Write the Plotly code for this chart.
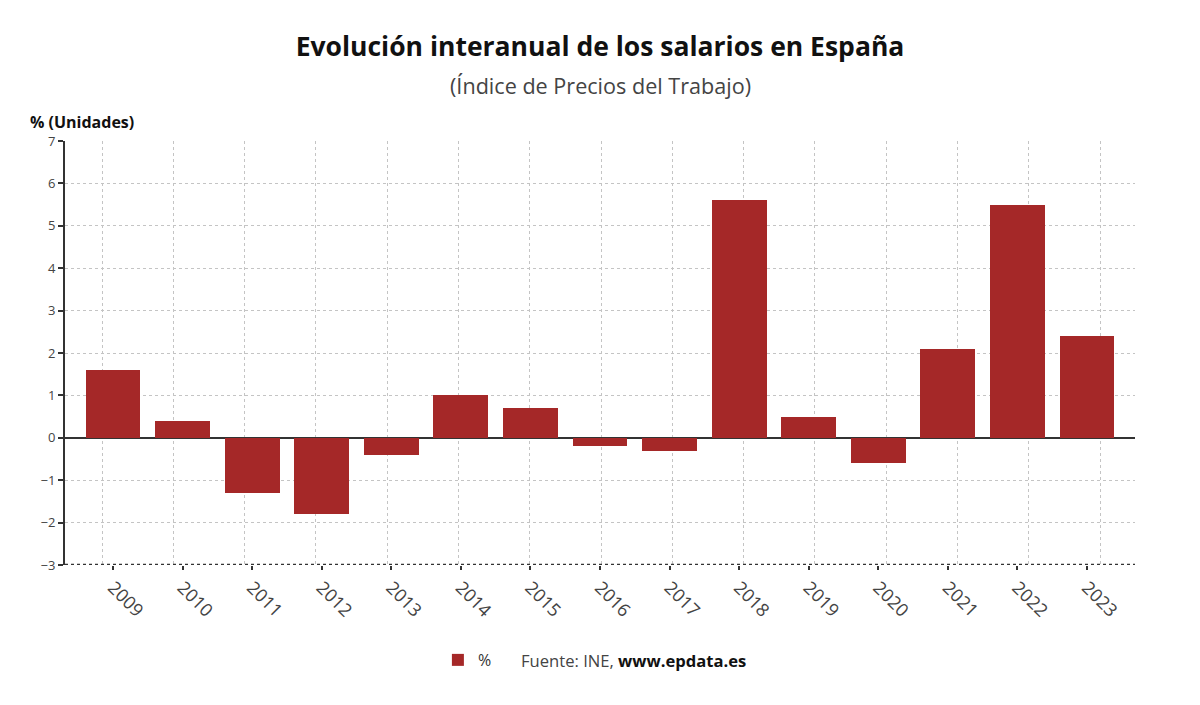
import plotly.graph_objects as go

years = [2009, 2010, 2011, 2012, 2013, 2014, 2015, 2016, 2017, 2018, 2019, 2020, 2021, 2022, 2023]
values = [1.6, 0.4, -1.3, -1.8, -0.4, 1.0, 0.7, -0.2, -0.3, 5.6, 0.5, -0.6, 2.1, 5.5, 2.4]
y_ticks = [-3, -2, -1, 0, 1, 2, 3, 4, 5, 6, 7]
y_tick_text = ["\u22123", "\u22122", "\u22121", "0", "1", "2", "3", "4", "5", "6", "7"]

FONT = "Open Sans"
BAR = "#a52828"

fig = go.Figure()
fig.add_trace(go.Bar(x=years, y=values, name="%", marker=dict(color=BAR, line=dict(width=0)),
                     width=0.79, showlegend=True))
# invisible trace on xaxis2 to carry the offset vertical gridlines
fig.add_trace(go.Scatter(x=[0, 14], y=[None, None], xaxis="x2", showlegend=False,
                         hoverinfo="skip", mode="lines"))

fig.update_layout(
    width=1200, height=705,
    margin=dict(l=57, r=73, t=133, b=148, autoexpand=False),
    paper_bgcolor="white", plot_bgcolor="white",
    font=dict(family=FONT, color="#444"),
    title=dict(text="<b>Evolución interanual de los salarios en España</b>", x=(600 - 8) / 1200,
               xanchor="center", y=1 - 39 / 705, yanchor="middle",
               font=dict(size=26.5, color="#111", family=FONT)),
    xaxis=dict(range=[2008.31, 2023.69], tickmode="array", tickvals=years,
               ticktext=[str(y) for y in years], tickangle=45, showgrid=False,
               ticks="outside", ticklen=4, tickwidth=2, tickcolor="#333", automargin=False,
               tickfont=dict(size=18, color="#444"), zeroline=False, showline=False),
    xaxis2=dict(range=[-0.519, 14.49], overlaying="x", tickvals=list(range(15)),
                showticklabels=False, showgrid=True, gridcolor="#c4c4c4", griddash="dot",
                gridwidth=1, zeroline=False, showline=False, ticks="", automargin=False),
    yaxis=dict(range=[-3, 7], tickvals=y_ticks, ticktext=y_tick_text, showgrid=True,
               gridcolor="#c4c4c4", griddash="dot", gridwidth=1, zeroline=True,
               zerolinecolor="#333", zerolinewidth=2, showline=True, linecolor="#333",
               linewidth=2, ticks="outside", ticklen=5, tickwidth=2, tickcolor="#333",
               automargin=False, tickfont=dict(size=13, color="#444")),
    legend=dict(orientation="h", x=0.3485, y=-0.224, xanchor="left", yanchor="middle",
                font=dict(size=16, color="#333"), itemwidth=30, bgcolor="rgba(0,0,0,0)"),
    bargap=0,
    showlegend=True,
)

fig.add_annotation(text="(Índice de Precios del Trabajo)", xref="paper", yref="paper",
                   x=(600 - 65) / 1070, y=(565 - 85) / 424, xanchor="center", yanchor="middle",
                   showarrow=False, font=dict(size=21.6, color="#444", family=FONT))
fig.add_annotation(text="<b>% (Unidades)</b>", xref="paper", yref="paper",
                   x=(28 - 65) / 1070, y=(565 - 122) / 424, xanchor="left", yanchor="middle",
                   showarrow=False, font=dict(size=16, color="#111", family=FONT))
fig.add_annotation(text="Fuente: INE, <span style='color:#111'><b>www.epdata.es</b></span>",
                   xref="paper", yref="paper",
                   x=(519 - 65) / 1070, y=(565 - 660) / 424, xanchor="left", yanchor="middle",
                   showarrow=False, font=dict(size=16.6, color="#444", family=FONT))
# dotted bottom axis line
fig.add_shape(type="line", xref="paper", yref="y", x0=0, x1=1, y0=-3, y1=-3,
              line=dict(color="#333", width=2.5, dash="dot"))

fig.write_html("out.html")
